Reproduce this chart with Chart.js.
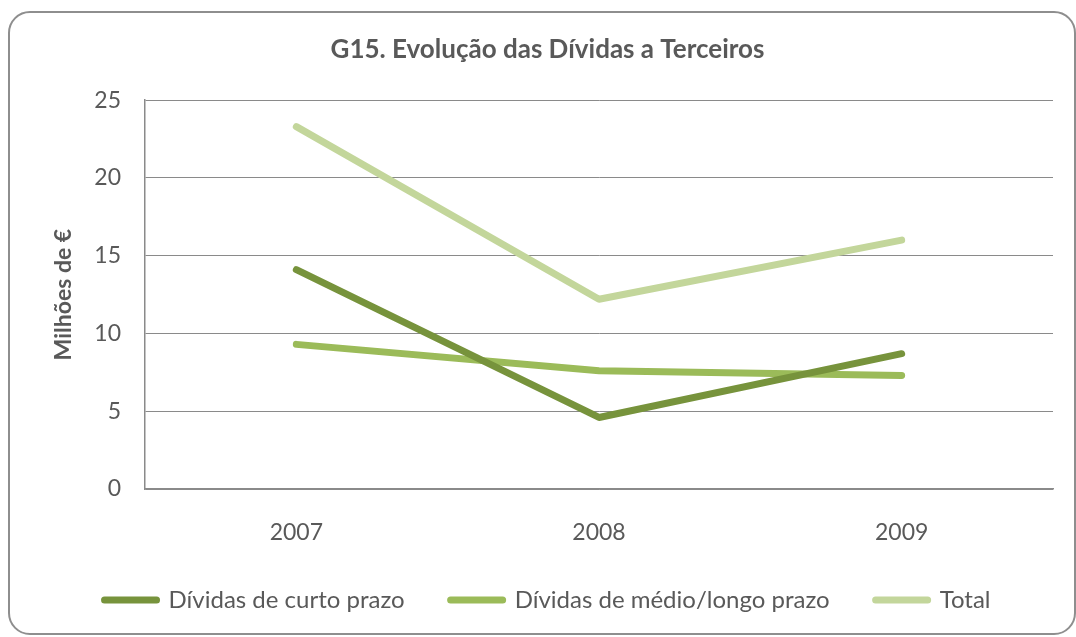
<!DOCTYPE html>
<html>
<head>
<meta charset="utf-8">
<script src="https://cdn.jsdelivr.net/npm/chart.js@4.4.0/dist/chart.umd.min.js"></script>
<style>
  html, body { margin: 0; padding: 0; background: #fff; }
  #wrap { position: relative; width: 1076px; height: 637px; overflow: hidden; }
  #frame {
    position: absolute; left: 8px; top: 11px; width: 1068px; height: 624px;
    border: 2px solid #8e8e8e; border-radius: 22px; box-sizing: border-box;
  }
  #chart { position: absolute; left: 0; top: 0; }
</style>
</head>
<body>
<div id="wrap">
  <div id="frame"></div>
  <canvas id="chart" width="1076" height="637"></canvas>
</div>
<script>
// data
const years = ['2007', '2008', '2009'];
const curtoPrazo = [14.1, 4.6, 8.7];
const medioLongo = [9.3, 7.6, 7.3];
const total = [23.3, 12.2, 16.0];
const yTicks = [0, 5, 10, 15, 20, 25];

const grey = '#595959';
const gridGrey = '#8a8a8a';
const fontFam = 'Lato, "Open Sans", sans-serif';

function lineSet(label, data, color) {
    return {
        label: label,
        data: data,
        borderColor: color,
        backgroundColor: color,
        borderWidth: 7,
        borderCapStyle: 'round',
        borderJoinStyle: 'round',
        pointRadius: 0,
        pointHoverRadius: 0,
        tension: 0,
        fill: false
    };
}

new Chart(document.getElementById('chart'), {
    type: 'line',
    data: {
        labels: years,
        datasets: [
            lineSet('Dívidas de curto prazo', curtoPrazo, '#77933c'),
            lineSet('Dívidas de médio/longo prazo', medioLongo, '#9bbb59'),
            lineSet('Total', total, '#c3d69b')
        ]
    },
    options: {
        responsive: false,
        animation: false,
        layout: { padding: { left: 42, right: 23, top: 34, bottom: 15 } },
        plugins: {
            title: {
                display: true,
                text: 'G15. Evolução das Dívidas a Terceiros',
                color: grey,
                font: { family: fontFam, size: 26, weight: 'bold' },
                padding: { top: 0, bottom: 35 }
            },
            legend: {
                position: 'bottom',
                labels: {
                    usePointStyle: true,
                    pointStyle: 'line',
                    pointStyleWidth: 52,
                    color: grey,
                    font: { family: fontFam, size: 24 },
                    padding: 46,
                    // round ends on the legend lines, like the reference
                    generateLabels: function(chart) {
                        return Chart.defaults.plugins.legend.labels.generateLabels(chart).map(function(item) {
                            item.lineCap = 'round';
                            item.lineWidth = 7;
                            return item;
                        });
                    }
                }
            },
            tooltip: { enabled: false }
        },
        scales: {
            x: {
                offset: true,
                grid: { display: false, drawTicks: false },
                border: { display: true, color: gridGrey, width: 1.5 },
                ticks: { color: grey, font: { family: fontFam, size: 23 }, padding: 30 },
                afterFit: function(scale) { scale.height = 53; }
            },
            y: {
                min: 0,
                max: 25,
                afterBuildTicks: function(scale) {
                    scale.ticks = yTicks.map(v => ({ value: v }));
                },
                grid: { color: gridGrey, lineWidth: 1, drawTicks: false },
                border: { display: true, color: gridGrey, width: 1.5 },
                ticks: { color: grey, font: { family: fontFam, size: 23 }, padding: 24 },
                title: {
                    display: true,
                    text: 'Milhões de €',
                    color: grey,
                    font: { family: fontFam, size: 23, weight: 'bold' },
                    padding: { top: 8, bottom: 0 }
                },
                afterFit: function(scale) { scale.width = 103; }
            }
        }
    }
});
</script>
</body>
</html>
